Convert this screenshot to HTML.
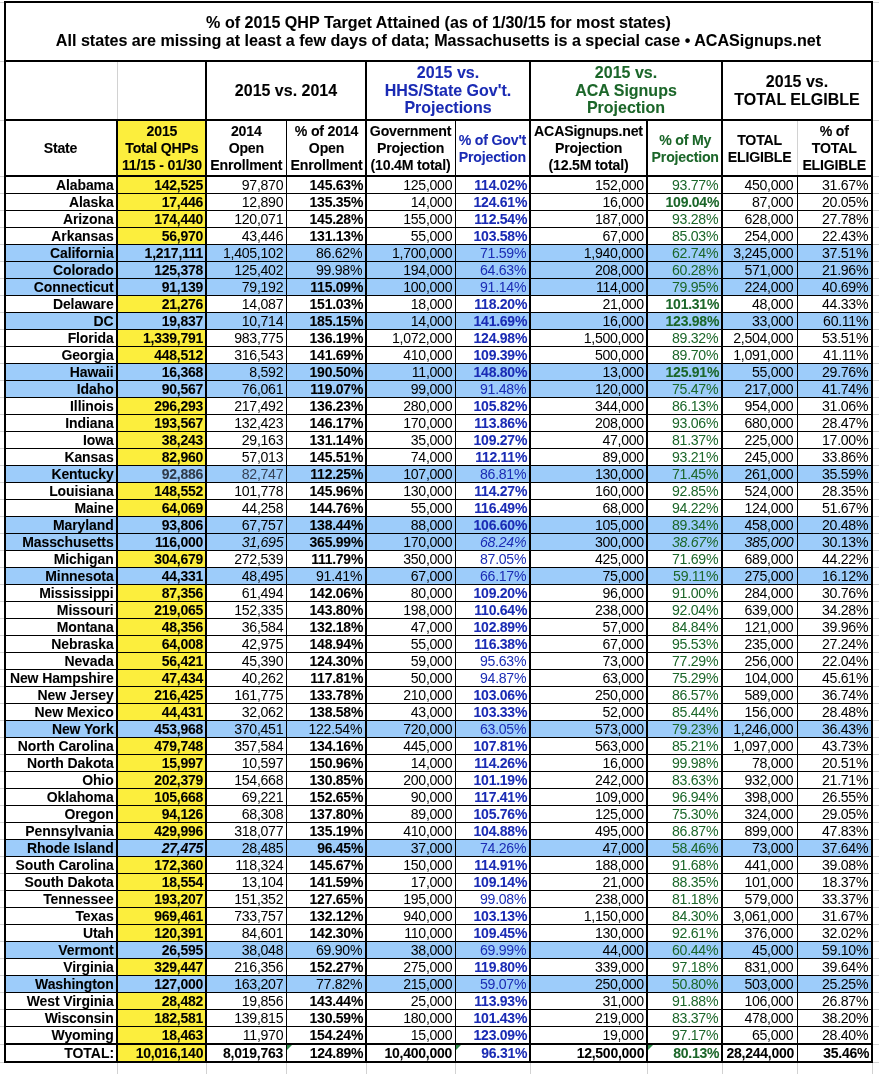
<!DOCTYPE html><html><head><meta charset="utf-8"><title>QHP</title><style>
html,body{margin:0;padding:0;background:#fff}
#p{will-change:transform;position:relative;width:879px;height:1074px;overflow:hidden;font-family:"Liberation Sans",sans-serif;color:#000}
#p div{position:absolute;box-sizing:border-box}
.k{background:#000}.g{background:#d2d2d2}
.bl{background:#9dccfa}.ye{background:#fcee3d}
.c{font-size:14.15px;line-height:1;height:14.15px;white-space:nowrap;letter-spacing:-0.3px;transform:scaleY(1.048);transform-origin:50% 11.978px;text-align:right;padding-right:2.8px}
.h{font-size:14.15px;line-height:1;height:14.15px;white-space:nowrap;letter-spacing:-0.2px;transform:scaleY(1.035);transform-origin:50% 11.978px;text-align:center;font-weight:bold;-webkit-text-stroke:0.08px currentColor}
.gh{font-size:16.0px;line-height:1;height:16.0px;white-space:nowrap;letter-spacing:0px;transform:scaleY(1.035);transform-origin:50% 13.544px;text-align:center;font-weight:bold;-webkit-text-stroke:0.08px currentColor}
.t{font-size:16.1px;line-height:1;height:16.1px;white-space:nowrap;letter-spacing:0px;transform:scaleY(1.03);transform-origin:50% 13.629px;text-align:center;font-weight:bold;-webkit-text-stroke:0.08px currentColor}
.c.b{font-size:14.0px;height:14.0px;transform:scaleY(0.99);transform-origin:50% 11.851px;letter-spacing:-0.25px;padding-right:1.9px;-webkit-text-stroke:0.06px currentColor}
.b{font-weight:bold}.i{font-style:italic}.tb{color:#1a2bb4}.tg{color:#1b6629}.gy{color:#2f3a4a}.gz{color:#364256}.c.s{letter-spacing:-0.1px}.c.p6{padding-right:2.1px}.c.p8{padding-right:3.6px}.c.s{padding-right:2.4px}.c.t0{padding-right:1.8px;letter-spacing:0}.c.t1{padding-right:1.8px;letter-spacing:-0.25px}.c.t2{padding-right:3px}
</style></head><body><div id="p">
<div class="g" style="left:0px;top:2px;width:4px;height:1px;"></div>
<div class="g" style="left:873px;top:2px;width:6px;height:1px;"></div>
<div class="g" style="left:0px;top:61px;width:4px;height:1px;"></div>
<div class="g" style="left:873px;top:61px;width:6px;height:1px;"></div>
<div class="g" style="left:0px;top:120px;width:4px;height:1px;"></div>
<div class="g" style="left:873px;top:120px;width:6px;height:1px;"></div>
<div class="g" style="left:0px;top:176px;width:4px;height:1px;"></div>
<div class="g" style="left:873px;top:176px;width:6px;height:1px;"></div>
<div class="g" style="left:0px;top:193px;width:4px;height:1px;"></div>
<div class="g" style="left:873px;top:193px;width:6px;height:1px;"></div>
<div class="g" style="left:0px;top:210px;width:4px;height:1px;"></div>
<div class="g" style="left:873px;top:210px;width:6px;height:1px;"></div>
<div class="g" style="left:0px;top:227px;width:4px;height:1px;"></div>
<div class="g" style="left:873px;top:227px;width:6px;height:1px;"></div>
<div class="g" style="left:0px;top:244px;width:4px;height:1px;"></div>
<div class="g" style="left:873px;top:244px;width:6px;height:1px;"></div>
<div class="g" style="left:0px;top:261px;width:4px;height:1px;"></div>
<div class="g" style="left:873px;top:261px;width:6px;height:1px;"></div>
<div class="g" style="left:0px;top:278px;width:4px;height:1px;"></div>
<div class="g" style="left:873px;top:278px;width:6px;height:1px;"></div>
<div class="g" style="left:0px;top:295px;width:4px;height:1px;"></div>
<div class="g" style="left:873px;top:295px;width:6px;height:1px;"></div>
<div class="g" style="left:0px;top:312px;width:4px;height:1px;"></div>
<div class="g" style="left:873px;top:312px;width:6px;height:1px;"></div>
<div class="g" style="left:0px;top:329px;width:4px;height:1px;"></div>
<div class="g" style="left:873px;top:329px;width:6px;height:1px;"></div>
<div class="g" style="left:0px;top:346px;width:4px;height:1px;"></div>
<div class="g" style="left:873px;top:346px;width:6px;height:1px;"></div>
<div class="g" style="left:0px;top:363px;width:4px;height:1px;"></div>
<div class="g" style="left:873px;top:363px;width:6px;height:1px;"></div>
<div class="g" style="left:0px;top:380px;width:4px;height:1px;"></div>
<div class="g" style="left:873px;top:380px;width:6px;height:1px;"></div>
<div class="g" style="left:0px;top:397px;width:4px;height:1px;"></div>
<div class="g" style="left:873px;top:397px;width:6px;height:1px;"></div>
<div class="g" style="left:0px;top:414px;width:4px;height:1px;"></div>
<div class="g" style="left:873px;top:414px;width:6px;height:1px;"></div>
<div class="g" style="left:0px;top:431px;width:4px;height:1px;"></div>
<div class="g" style="left:873px;top:431px;width:6px;height:1px;"></div>
<div class="g" style="left:0px;top:448px;width:4px;height:1px;"></div>
<div class="g" style="left:873px;top:448px;width:6px;height:1px;"></div>
<div class="g" style="left:0px;top:465px;width:4px;height:1px;"></div>
<div class="g" style="left:873px;top:465px;width:6px;height:1px;"></div>
<div class="g" style="left:0px;top:482px;width:4px;height:1px;"></div>
<div class="g" style="left:873px;top:482px;width:6px;height:1px;"></div>
<div class="g" style="left:0px;top:499px;width:4px;height:1px;"></div>
<div class="g" style="left:873px;top:499px;width:6px;height:1px;"></div>
<div class="g" style="left:0px;top:516px;width:4px;height:1px;"></div>
<div class="g" style="left:873px;top:516px;width:6px;height:1px;"></div>
<div class="g" style="left:0px;top:533px;width:4px;height:1px;"></div>
<div class="g" style="left:873px;top:533px;width:6px;height:1px;"></div>
<div class="g" style="left:0px;top:550px;width:4px;height:1px;"></div>
<div class="g" style="left:873px;top:550px;width:6px;height:1px;"></div>
<div class="g" style="left:0px;top:567px;width:4px;height:1px;"></div>
<div class="g" style="left:873px;top:567px;width:6px;height:1px;"></div>
<div class="g" style="left:0px;top:584px;width:4px;height:1px;"></div>
<div class="g" style="left:873px;top:584px;width:6px;height:1px;"></div>
<div class="g" style="left:0px;top:601px;width:4px;height:1px;"></div>
<div class="g" style="left:873px;top:601px;width:6px;height:1px;"></div>
<div class="g" style="left:0px;top:618px;width:4px;height:1px;"></div>
<div class="g" style="left:873px;top:618px;width:6px;height:1px;"></div>
<div class="g" style="left:0px;top:635px;width:4px;height:1px;"></div>
<div class="g" style="left:873px;top:635px;width:6px;height:1px;"></div>
<div class="g" style="left:0px;top:652px;width:4px;height:1px;"></div>
<div class="g" style="left:873px;top:652px;width:6px;height:1px;"></div>
<div class="g" style="left:0px;top:669px;width:4px;height:1px;"></div>
<div class="g" style="left:873px;top:669px;width:6px;height:1px;"></div>
<div class="g" style="left:0px;top:686px;width:4px;height:1px;"></div>
<div class="g" style="left:873px;top:686px;width:6px;height:1px;"></div>
<div class="g" style="left:0px;top:703px;width:4px;height:1px;"></div>
<div class="g" style="left:873px;top:703px;width:6px;height:1px;"></div>
<div class="g" style="left:0px;top:720px;width:4px;height:1px;"></div>
<div class="g" style="left:873px;top:720px;width:6px;height:1px;"></div>
<div class="g" style="left:0px;top:737px;width:4px;height:1px;"></div>
<div class="g" style="left:873px;top:737px;width:6px;height:1px;"></div>
<div class="g" style="left:0px;top:754px;width:4px;height:1px;"></div>
<div class="g" style="left:873px;top:754px;width:6px;height:1px;"></div>
<div class="g" style="left:0px;top:771px;width:4px;height:1px;"></div>
<div class="g" style="left:873px;top:771px;width:6px;height:1px;"></div>
<div class="g" style="left:0px;top:788px;width:4px;height:1px;"></div>
<div class="g" style="left:873px;top:788px;width:6px;height:1px;"></div>
<div class="g" style="left:0px;top:805px;width:4px;height:1px;"></div>
<div class="g" style="left:873px;top:805px;width:6px;height:1px;"></div>
<div class="g" style="left:0px;top:822px;width:4px;height:1px;"></div>
<div class="g" style="left:873px;top:822px;width:6px;height:1px;"></div>
<div class="g" style="left:0px;top:839px;width:4px;height:1px;"></div>
<div class="g" style="left:873px;top:839px;width:6px;height:1px;"></div>
<div class="g" style="left:0px;top:856px;width:4px;height:1px;"></div>
<div class="g" style="left:873px;top:856px;width:6px;height:1px;"></div>
<div class="g" style="left:0px;top:873px;width:4px;height:1px;"></div>
<div class="g" style="left:873px;top:873px;width:6px;height:1px;"></div>
<div class="g" style="left:0px;top:890px;width:4px;height:1px;"></div>
<div class="g" style="left:873px;top:890px;width:6px;height:1px;"></div>
<div class="g" style="left:0px;top:907px;width:4px;height:1px;"></div>
<div class="g" style="left:873px;top:907px;width:6px;height:1px;"></div>
<div class="g" style="left:0px;top:924px;width:4px;height:1px;"></div>
<div class="g" style="left:873px;top:924px;width:6px;height:1px;"></div>
<div class="g" style="left:0px;top:941px;width:4px;height:1px;"></div>
<div class="g" style="left:873px;top:941px;width:6px;height:1px;"></div>
<div class="g" style="left:0px;top:958px;width:4px;height:1px;"></div>
<div class="g" style="left:873px;top:958px;width:6px;height:1px;"></div>
<div class="g" style="left:0px;top:975px;width:4px;height:1px;"></div>
<div class="g" style="left:873px;top:975px;width:6px;height:1px;"></div>
<div class="g" style="left:0px;top:992px;width:4px;height:1px;"></div>
<div class="g" style="left:873px;top:992px;width:6px;height:1px;"></div>
<div class="g" style="left:0px;top:1009px;width:4px;height:1px;"></div>
<div class="g" style="left:873px;top:1009px;width:6px;height:1px;"></div>
<div class="g" style="left:0px;top:1026px;width:4px;height:1px;"></div>
<div class="g" style="left:873px;top:1026px;width:6px;height:1px;"></div>
<div class="g" style="left:0px;top:1044px;width:4px;height:1px;"></div>
<div class="g" style="left:873px;top:1044px;width:6px;height:1px;"></div>
<div class="g" style="left:0px;top:1062px;width:4px;height:1px;"></div>
<div class="g" style="left:873px;top:1062px;width:6px;height:1px;"></div>
<div class="g" style="left:117px;top:1063px;width:1px;height:11px;"></div>
<div class="g" style="left:206px;top:1063px;width:1px;height:11px;"></div>
<div class="g" style="left:286px;top:1063px;width:1px;height:11px;"></div>
<div class="g" style="left:366px;top:1063px;width:1px;height:11px;"></div>
<div class="g" style="left:455px;top:1063px;width:1px;height:11px;"></div>
<div class="g" style="left:530px;top:1063px;width:1px;height:11px;"></div>
<div class="g" style="left:647px;top:1063px;width:1px;height:11px;"></div>
<div class="g" style="left:722px;top:1063px;width:1px;height:11px;"></div>
<div class="g" style="left:797px;top:1063px;width:1px;height:11px;"></div>
<div class="g" style="left:872px;top:1063px;width:1px;height:11px;"></div>
<div class="g" style="left:117px;top:62px;width:1px;height:57px;"></div>
<div class="ye" style="left:118px;top:177px;width:87px;height:16px;"></div>
<div class="ye" style="left:118px;top:194px;width:87px;height:16px;"></div>
<div class="ye" style="left:118px;top:211px;width:87px;height:16px;"></div>
<div class="ye" style="left:118px;top:228px;width:87px;height:16px;"></div>
<div class="bl" style="left:6px;top:245px;width:865px;height:16px;"></div>
<div class="bl" style="left:6px;top:262px;width:865px;height:16px;"></div>
<div class="bl" style="left:6px;top:279px;width:865px;height:16px;"></div>
<div class="ye" style="left:118px;top:296px;width:87px;height:16px;"></div>
<div class="bl" style="left:6px;top:313px;width:865px;height:16px;"></div>
<div class="ye" style="left:118px;top:330px;width:87px;height:16px;"></div>
<div class="ye" style="left:118px;top:347px;width:87px;height:16px;"></div>
<div class="bl" style="left:6px;top:364px;width:865px;height:16px;"></div>
<div class="bl" style="left:6px;top:381px;width:865px;height:16px;"></div>
<div class="ye" style="left:118px;top:398px;width:87px;height:16px;"></div>
<div class="ye" style="left:118px;top:415px;width:87px;height:16px;"></div>
<div class="ye" style="left:118px;top:432px;width:87px;height:16px;"></div>
<div class="ye" style="left:118px;top:449px;width:87px;height:16px;"></div>
<div class="bl" style="left:6px;top:466px;width:865px;height:16px;"></div>
<div class="ye" style="left:118px;top:483px;width:87px;height:16px;"></div>
<div class="ye" style="left:118px;top:500px;width:87px;height:16px;"></div>
<div class="bl" style="left:6px;top:517px;width:865px;height:16px;"></div>
<div class="bl" style="left:6px;top:534px;width:865px;height:16px;"></div>
<div class="ye" style="left:118px;top:551px;width:87px;height:16px;"></div>
<div class="bl" style="left:6px;top:568px;width:865px;height:16px;"></div>
<div class="ye" style="left:118px;top:585px;width:87px;height:16px;"></div>
<div class="ye" style="left:118px;top:602px;width:87px;height:16px;"></div>
<div class="ye" style="left:118px;top:619px;width:87px;height:16px;"></div>
<div class="ye" style="left:118px;top:636px;width:87px;height:16px;"></div>
<div class="ye" style="left:118px;top:653px;width:87px;height:16px;"></div>
<div class="ye" style="left:118px;top:670px;width:87px;height:16px;"></div>
<div class="ye" style="left:118px;top:687px;width:87px;height:16px;"></div>
<div class="ye" style="left:118px;top:704px;width:87px;height:16px;"></div>
<div class="bl" style="left:6px;top:721px;width:865px;height:16px;"></div>
<div class="ye" style="left:118px;top:738px;width:87px;height:16px;"></div>
<div class="ye" style="left:118px;top:755px;width:87px;height:16px;"></div>
<div class="ye" style="left:118px;top:772px;width:87px;height:16px;"></div>
<div class="ye" style="left:118px;top:789px;width:87px;height:16px;"></div>
<div class="ye" style="left:118px;top:806px;width:87px;height:16px;"></div>
<div class="ye" style="left:118px;top:823px;width:87px;height:16px;"></div>
<div class="bl" style="left:6px;top:840px;width:865px;height:16px;"></div>
<div class="ye" style="left:118px;top:857px;width:87px;height:16px;"></div>
<div class="ye" style="left:118px;top:874px;width:87px;height:16px;"></div>
<div class="ye" style="left:118px;top:891px;width:87px;height:16px;"></div>
<div class="ye" style="left:118px;top:908px;width:87px;height:16px;"></div>
<div class="ye" style="left:118px;top:925px;width:87px;height:16px;"></div>
<div class="bl" style="left:6px;top:942px;width:865px;height:16px;"></div>
<div class="ye" style="left:118px;top:959px;width:87px;height:16px;"></div>
<div class="bl" style="left:6px;top:976px;width:865px;height:16px;"></div>
<div class="ye" style="left:118px;top:993px;width:87px;height:16px;"></div>
<div class="ye" style="left:118px;top:1010px;width:87px;height:16px;"></div>
<div class="ye" style="left:118px;top:1027px;width:87px;height:16px;"></div>
<div class="ye" style="left:118px;top:121px;width:87px;height:54px;"></div>
<div class="ye" style="left:118px;top:1045px;width:87px;height:16px;"></div>
<div class="k" style="left:4px;top:1px;width:869px;height:2px;"></div>
<div class="k" style="left:4px;top:60px;width:869px;height:2px;"></div>
<div class="k" style="left:4px;top:119px;width:869px;height:2px;"></div>
<div class="k" style="left:4px;top:175px;width:869px;height:2px;"></div>
<div class="k" style="left:4px;top:193px;width:869px;height:1px;"></div>
<div class="k" style="left:4px;top:210px;width:869px;height:1px;"></div>
<div class="k" style="left:4px;top:227px;width:869px;height:1px;"></div>
<div class="k" style="left:4px;top:244px;width:869px;height:1px;"></div>
<div class="k" style="left:4px;top:261px;width:869px;height:1px;"></div>
<div class="k" style="left:4px;top:278px;width:869px;height:1px;"></div>
<div class="k" style="left:4px;top:295px;width:869px;height:1px;"></div>
<div class="k" style="left:4px;top:312px;width:869px;height:1px;"></div>
<div class="k" style="left:4px;top:329px;width:869px;height:1px;"></div>
<div class="k" style="left:4px;top:346px;width:869px;height:1px;"></div>
<div class="k" style="left:4px;top:363px;width:869px;height:1px;"></div>
<div class="k" style="left:4px;top:380px;width:869px;height:1px;"></div>
<div class="k" style="left:4px;top:397px;width:869px;height:1px;"></div>
<div class="k" style="left:4px;top:414px;width:869px;height:1px;"></div>
<div class="k" style="left:4px;top:431px;width:869px;height:1px;"></div>
<div class="k" style="left:4px;top:448px;width:869px;height:1px;"></div>
<div class="k" style="left:4px;top:465px;width:869px;height:1px;"></div>
<div class="k" style="left:4px;top:482px;width:869px;height:1px;"></div>
<div class="k" style="left:4px;top:499px;width:869px;height:1px;"></div>
<div class="k" style="left:4px;top:516px;width:869px;height:1px;"></div>
<div class="k" style="left:4px;top:533px;width:869px;height:1px;"></div>
<div class="k" style="left:4px;top:550px;width:869px;height:1px;"></div>
<div class="k" style="left:4px;top:567px;width:869px;height:1px;"></div>
<div class="k" style="left:4px;top:584px;width:869px;height:1px;"></div>
<div class="k" style="left:4px;top:601px;width:869px;height:1px;"></div>
<div class="k" style="left:4px;top:618px;width:869px;height:1px;"></div>
<div class="k" style="left:4px;top:635px;width:869px;height:1px;"></div>
<div class="k" style="left:4px;top:652px;width:869px;height:1px;"></div>
<div class="k" style="left:4px;top:669px;width:869px;height:1px;"></div>
<div class="k" style="left:4px;top:686px;width:869px;height:1px;"></div>
<div class="k" style="left:4px;top:703px;width:869px;height:1px;"></div>
<div class="k" style="left:4px;top:720px;width:869px;height:1px;"></div>
<div class="k" style="left:4px;top:737px;width:869px;height:1px;"></div>
<div class="k" style="left:4px;top:754px;width:869px;height:1px;"></div>
<div class="k" style="left:4px;top:771px;width:869px;height:1px;"></div>
<div class="k" style="left:4px;top:788px;width:869px;height:1px;"></div>
<div class="k" style="left:4px;top:805px;width:869px;height:1px;"></div>
<div class="k" style="left:4px;top:822px;width:869px;height:1px;"></div>
<div class="k" style="left:4px;top:839px;width:869px;height:1px;"></div>
<div class="k" style="left:4px;top:856px;width:869px;height:1px;"></div>
<div class="k" style="left:4px;top:873px;width:869px;height:1px;"></div>
<div class="k" style="left:4px;top:890px;width:869px;height:1px;"></div>
<div class="k" style="left:4px;top:907px;width:869px;height:1px;"></div>
<div class="k" style="left:4px;top:924px;width:869px;height:1px;"></div>
<div class="k" style="left:4px;top:941px;width:869px;height:1px;"></div>
<div class="k" style="left:4px;top:958px;width:869px;height:1px;"></div>
<div class="k" style="left:4px;top:975px;width:869px;height:1px;"></div>
<div class="k" style="left:4px;top:992px;width:869px;height:1px;"></div>
<div class="k" style="left:4px;top:1009px;width:869px;height:1px;"></div>
<div class="k" style="left:4px;top:1026px;width:869px;height:1px;"></div>
<div class="k" style="left:4px;top:1043px;width:869px;height:2px;"></div>
<div class="k" style="left:4px;top:1061px;width:869px;height:2px;"></div>
<div class="k" style="left:4px;top:1px;width:2px;height:1062px;"></div>
<div class="k" style="left:116px;top:119px;width:2px;height:943px;"></div>
<div class="k" style="left:205px;top:60px;width:2px;height:1002px;"></div>
<div class="k" style="left:286px;top:119px;width:1px;height:943px;"></div>
<div class="k" style="left:365px;top:60px;width:2px;height:1002px;"></div>
<div class="k" style="left:455px;top:119px;width:1px;height:943px;"></div>
<div class="k" style="left:529px;top:60px;width:2px;height:1002px;"></div>
<div class="k" style="left:646px;top:119px;width:2px;height:943px;"></div>
<div class="k" style="left:721px;top:60px;width:2px;height:1002px;"></div>
<div class="g" style="left:797px;top:121px;width:1px;height:54px;"></div>
<div class="k" style="left:797px;top:177px;width:1px;height:885px;"></div>
<div class="k" style="left:871px;top:1px;width:2px;height:1062px;"></div>
<div class="t" style="left:6px;top:14.07px;width:865px">% of 2015 QHP Target Attained (as of 1/30/15 for most states)</div>
<div class="t" style="left:6px;top:32.37px;width:865px">All states are missing at least a few days of data; Massachusetts is a special case • ACASignups.net</div>
<div class="gh" style="left:207px;top:82.66px;width:158px">2015 vs. 2014</div>
<div class="gh tb" style="left:367px;top:64.86px;width:162px">2015 vs.</div>
<div class="gh tb" style="left:367px;top:82.66px;width:162px">HHS/State Gov't.</div>
<div class="gh tb" style="left:367px;top:100.46px;width:162px">Projections</div>
<div class="gh tg" style="left:531px;top:64.86px;width:190px">2015 vs.</div>
<div class="gh tg" style="left:531px;top:82.66px;width:190px">ACA Signups</div>
<div class="gh tg" style="left:531px;top:100.46px;width:190px">Projection</div>
<div class="gh" style="left:723px;top:73.76px;width:148px">2015 vs.</div>
<div class="gh" style="left:723px;top:91.56px;width:148px">TOTAL ELGIBLE</div>
<div class="h" style="left:5.5px;top:141.22px;width:110px">State</div>
<div class="h" style="left:118.4px;top:124.27px;width:87px">2015</div>
<div class="h" style="left:118.4px;top:141.22px;width:87px">Total QHPs</div>
<div class="h" style="left:118.4px;top:158.17px;width:87px">11/15 - 01/30</div>
<div class="h" style="left:206.8px;top:124.27px;width:79px">2014</div>
<div class="h" style="left:206.8px;top:141.22px;width:79px">Open</div>
<div class="h" style="left:206.8px;top:158.17px;width:79px">Enrollment</div>
<div class="h" style="left:287.5px;top:124.27px;width:78px">% of 2014</div>
<div class="h" style="left:287.5px;top:141.22px;width:78px">Open</div>
<div class="h" style="left:287.5px;top:158.17px;width:78px">Enrollment</div>
<div class="h" style="left:366.5px;top:124.27px;width:88px">Government</div>
<div class="h" style="left:366.5px;top:141.22px;width:88px">Projection</div>
<div class="h" style="left:366.5px;top:158.17px;width:88px">(10.4M total)</div>
<div class="h tb" style="left:455.9px;top:132.75px;width:73px">% of Gov't</div>
<div class="h tb" style="left:455.9px;top:149.7px;width:73px">Projection</div>
<div class="h" style="left:531px;top:124.27px;width:115px">ACASignups.net</div>
<div class="h" style="left:531px;top:141.22px;width:115px">Projection</div>
<div class="h" style="left:531px;top:158.17px;width:115px">(12.5M total)</div>
<div class="h tg" style="left:648.7px;top:132.75px;width:73px">% of My</div>
<div class="h tg" style="left:648.7px;top:149.7px;width:73px">Projection</div>
<div class="h" style="left:722.6px;top:132.75px;width:74px">TOTAL</div>
<div class="h" style="left:722.6px;top:149.7px;width:74px">ELIGIBLE</div>
<div class="h" style="left:797.7px;top:124.27px;width:73px">% of</div>
<div class="h" style="left:797.7px;top:141.22px;width:73px">TOTAL</div>
<div class="h" style="left:797.7px;top:158.17px;width:73px">ELIGIBLE</div>
<div class="c b s" style="left:6px;top:178.2px;width:110px">Alabama</div>
<div class="c b" style="left:118px;top:178.2px;width:87px">142,525</div>
<div class="c" style="left:207px;top:178.37px;width:79px">97,870</div>
<div class="c b" style="left:287px;top:178.2px;width:78px">145.63%</div>
<div class="c" style="left:367px;top:178.37px;width:88px">125,000</div>
<div class="c b tb" style="left:456px;top:178.2px;width:73px">114.02%</div>
<div class="c p6" style="left:531px;top:178.37px;width:115px">152,000</div>
<div class="c tg" style="left:648px;top:178.37px;width:73px">93.77%</div>
<div class="c p8" style="left:723px;top:178.37px;width:74px">450,000</div>
<div class="c" style="left:798px;top:178.37px;width:73px">31.67%</div>
<div class="c b s" style="left:6px;top:195.2px;width:110px">Alaska</div>
<div class="c b" style="left:118px;top:195.2px;width:87px">17,446</div>
<div class="c" style="left:207px;top:195.37px;width:79px">12,890</div>
<div class="c b" style="left:287px;top:195.2px;width:78px">135.35%</div>
<div class="c" style="left:367px;top:195.37px;width:88px">14,000</div>
<div class="c b tb" style="left:456px;top:195.2px;width:73px">124.61%</div>
<div class="c p6" style="left:531px;top:195.37px;width:115px">16,000</div>
<div class="c b tg" style="left:648px;top:195.2px;width:73px">109.04%</div>
<div class="c p8" style="left:723px;top:195.37px;width:74px">87,000</div>
<div class="c" style="left:798px;top:195.37px;width:73px">20.05%</div>
<div class="c b s" style="left:6px;top:212.2px;width:110px">Arizona</div>
<div class="c b" style="left:118px;top:212.2px;width:87px">174,440</div>
<div class="c" style="left:207px;top:212.37px;width:79px">120,071</div>
<div class="c b" style="left:287px;top:212.2px;width:78px">145.28%</div>
<div class="c" style="left:367px;top:212.37px;width:88px">155,000</div>
<div class="c b tb" style="left:456px;top:212.2px;width:73px">112.54%</div>
<div class="c p6" style="left:531px;top:212.37px;width:115px">187,000</div>
<div class="c tg" style="left:648px;top:212.37px;width:73px">93.28%</div>
<div class="c p8" style="left:723px;top:212.37px;width:74px">628,000</div>
<div class="c" style="left:798px;top:212.37px;width:73px">27.78%</div>
<div class="c b s" style="left:6px;top:229.2px;width:110px">Arkansas</div>
<div class="c b" style="left:118px;top:229.2px;width:87px">56,970</div>
<div class="c" style="left:207px;top:229.37px;width:79px">43,446</div>
<div class="c b" style="left:287px;top:229.2px;width:78px">131.13%</div>
<div class="c" style="left:367px;top:229.37px;width:88px">55,000</div>
<div class="c b tb" style="left:456px;top:229.2px;width:73px">103.58%</div>
<div class="c p6" style="left:531px;top:229.37px;width:115px">67,000</div>
<div class="c tg" style="left:648px;top:229.37px;width:73px">85.03%</div>
<div class="c p8" style="left:723px;top:229.37px;width:74px">254,000</div>
<div class="c" style="left:798px;top:229.37px;width:73px">22.43%</div>
<div class="c b s" style="left:6px;top:246.2px;width:110px">California</div>
<div class="c b" style="left:118px;top:246.2px;width:87px">1,217,111</div>
<div class="c" style="left:207px;top:246.37px;width:79px">1,405,102</div>
<div class="c" style="left:287px;top:246.37px;width:78px">86.62%</div>
<div class="c" style="left:367px;top:246.37px;width:88px">1,700,000</div>
<div class="c tb" style="left:456px;top:246.37px;width:73px">71.59%</div>
<div class="c p6" style="left:531px;top:246.37px;width:115px">1,940,000</div>
<div class="c tg" style="left:648px;top:246.37px;width:73px">62.74%</div>
<div class="c p8" style="left:723px;top:246.37px;width:74px">3,245,000</div>
<div class="c" style="left:798px;top:246.37px;width:73px">37.51%</div>
<div class="c b s" style="left:6px;top:263.2px;width:110px">Colorado</div>
<div class="c b" style="left:118px;top:263.2px;width:87px">125,378</div>
<div class="c" style="left:207px;top:263.37px;width:79px">125,402</div>
<div class="c" style="left:287px;top:263.37px;width:78px">99.98%</div>
<div class="c" style="left:367px;top:263.37px;width:88px">194,000</div>
<div class="c tb" style="left:456px;top:263.37px;width:73px">64.63%</div>
<div class="c p6" style="left:531px;top:263.37px;width:115px">208,000</div>
<div class="c tg" style="left:648px;top:263.37px;width:73px">60.28%</div>
<div class="c p8" style="left:723px;top:263.37px;width:74px">571,000</div>
<div class="c" style="left:798px;top:263.37px;width:73px">21.96%</div>
<div class="c b s" style="left:6px;top:280.2px;width:110px">Connecticut</div>
<div class="c b" style="left:118px;top:280.2px;width:87px">91,139</div>
<div class="c" style="left:207px;top:280.37px;width:79px">79,192</div>
<div class="c b" style="left:287px;top:280.2px;width:78px">115.09%</div>
<div class="c" style="left:367px;top:280.37px;width:88px">100,000</div>
<div class="c tb" style="left:456px;top:280.37px;width:73px">91.14%</div>
<div class="c p6" style="left:531px;top:280.37px;width:115px">114,000</div>
<div class="c tg" style="left:648px;top:280.37px;width:73px">79.95%</div>
<div class="c p8" style="left:723px;top:280.37px;width:74px">224,000</div>
<div class="c" style="left:798px;top:280.37px;width:73px">40.69%</div>
<div class="c b s" style="left:6px;top:297.2px;width:110px">Delaware</div>
<div class="c b" style="left:118px;top:297.2px;width:87px">21,276</div>
<div class="c" style="left:207px;top:297.37px;width:79px">14,087</div>
<div class="c b" style="left:287px;top:297.2px;width:78px">151.03%</div>
<div class="c" style="left:367px;top:297.37px;width:88px">18,000</div>
<div class="c b tb" style="left:456px;top:297.2px;width:73px">118.20%</div>
<div class="c p6" style="left:531px;top:297.37px;width:115px">21,000</div>
<div class="c b tg" style="left:648px;top:297.2px;width:73px">101.31%</div>
<div class="c p8" style="left:723px;top:297.37px;width:74px">48,000</div>
<div class="c" style="left:798px;top:297.37px;width:73px">44.33%</div>
<div class="c b s" style="left:6px;top:314.2px;width:110px">DC</div>
<div class="c b" style="left:118px;top:314.2px;width:87px">19,837</div>
<div class="c" style="left:207px;top:314.37px;width:79px">10,714</div>
<div class="c b" style="left:287px;top:314.2px;width:78px">185.15%</div>
<div class="c" style="left:367px;top:314.37px;width:88px">14,000</div>
<div class="c b tb" style="left:456px;top:314.2px;width:73px">141.69%</div>
<div class="c p6" style="left:531px;top:314.37px;width:115px">16,000</div>
<div class="c b tg" style="left:648px;top:314.2px;width:73px">123.98%</div>
<div class="c p8" style="left:723px;top:314.37px;width:74px">33,000</div>
<div class="c" style="left:798px;top:314.37px;width:73px">60.11%</div>
<div class="c b s" style="left:6px;top:331.2px;width:110px">Florida</div>
<div class="c b" style="left:118px;top:331.2px;width:87px">1,339,791</div>
<div class="c" style="left:207px;top:331.37px;width:79px">983,775</div>
<div class="c b" style="left:287px;top:331.2px;width:78px">136.19%</div>
<div class="c" style="left:367px;top:331.37px;width:88px">1,072,000</div>
<div class="c b tb" style="left:456px;top:331.2px;width:73px">124.98%</div>
<div class="c p6" style="left:531px;top:331.37px;width:115px">1,500,000</div>
<div class="c tg" style="left:648px;top:331.37px;width:73px">89.32%</div>
<div class="c p8" style="left:723px;top:331.37px;width:74px">2,504,000</div>
<div class="c" style="left:798px;top:331.37px;width:73px">53.51%</div>
<div class="c b s" style="left:6px;top:348.2px;width:110px">Georgia</div>
<div class="c b" style="left:118px;top:348.2px;width:87px">448,512</div>
<div class="c" style="left:207px;top:348.37px;width:79px">316,543</div>
<div class="c b" style="left:287px;top:348.2px;width:78px">141.69%</div>
<div class="c" style="left:367px;top:348.37px;width:88px">410,000</div>
<div class="c b tb" style="left:456px;top:348.2px;width:73px">109.39%</div>
<div class="c p6" style="left:531px;top:348.37px;width:115px">500,000</div>
<div class="c tg" style="left:648px;top:348.37px;width:73px">89.70%</div>
<div class="c p8" style="left:723px;top:348.37px;width:74px">1,091,000</div>
<div class="c" style="left:798px;top:348.37px;width:73px">41.11%</div>
<div class="c b s" style="left:6px;top:365.2px;width:110px">Hawaii</div>
<div class="c b" style="left:118px;top:365.2px;width:87px">16,368</div>
<div class="c" style="left:207px;top:365.37px;width:79px">8,592</div>
<div class="c b" style="left:287px;top:365.2px;width:78px">190.50%</div>
<div class="c" style="left:367px;top:365.37px;width:88px">11,000</div>
<div class="c b tb" style="left:456px;top:365.2px;width:73px">148.80%</div>
<div class="c p6" style="left:531px;top:365.37px;width:115px">13,000</div>
<div class="c b tg" style="left:648px;top:365.2px;width:73px">125.91%</div>
<div class="c p8" style="left:723px;top:365.37px;width:74px">55,000</div>
<div class="c" style="left:798px;top:365.37px;width:73px">29.76%</div>
<div class="c b s" style="left:6px;top:382.2px;width:110px">Idaho</div>
<div class="c b" style="left:118px;top:382.2px;width:87px">90,567</div>
<div class="c" style="left:207px;top:382.37px;width:79px">76,061</div>
<div class="c b" style="left:287px;top:382.2px;width:78px">119.07%</div>
<div class="c" style="left:367px;top:382.37px;width:88px">99,000</div>
<div class="c tb" style="left:456px;top:382.37px;width:73px">91.48%</div>
<div class="c p6" style="left:531px;top:382.37px;width:115px">120,000</div>
<div class="c tg" style="left:648px;top:382.37px;width:73px">75.47%</div>
<div class="c p8" style="left:723px;top:382.37px;width:74px">217,000</div>
<div class="c" style="left:798px;top:382.37px;width:73px">41.74%</div>
<div class="c b s" style="left:6px;top:399.2px;width:110px">Illinois</div>
<div class="c b" style="left:118px;top:399.2px;width:87px">296,293</div>
<div class="c" style="left:207px;top:399.37px;width:79px">217,492</div>
<div class="c b" style="left:287px;top:399.2px;width:78px">136.23%</div>
<div class="c" style="left:367px;top:399.37px;width:88px">280,000</div>
<div class="c b tb" style="left:456px;top:399.2px;width:73px">105.82%</div>
<div class="c p6" style="left:531px;top:399.37px;width:115px">344,000</div>
<div class="c tg" style="left:648px;top:399.37px;width:73px">86.13%</div>
<div class="c p8" style="left:723px;top:399.37px;width:74px">954,000</div>
<div class="c" style="left:798px;top:399.37px;width:73px">31.06%</div>
<div class="c b s" style="left:6px;top:416.2px;width:110px">Indiana</div>
<div class="c b" style="left:118px;top:416.2px;width:87px">193,567</div>
<div class="c" style="left:207px;top:416.37px;width:79px">132,423</div>
<div class="c b" style="left:287px;top:416.2px;width:78px">146.17%</div>
<div class="c" style="left:367px;top:416.37px;width:88px">170,000</div>
<div class="c b tb" style="left:456px;top:416.2px;width:73px">113.86%</div>
<div class="c p6" style="left:531px;top:416.37px;width:115px">208,000</div>
<div class="c tg" style="left:648px;top:416.37px;width:73px">93.06%</div>
<div class="c p8" style="left:723px;top:416.37px;width:74px">680,000</div>
<div class="c" style="left:798px;top:416.37px;width:73px">28.47%</div>
<div class="c b s" style="left:6px;top:433.2px;width:110px">Iowa</div>
<div class="c b" style="left:118px;top:433.2px;width:87px">38,243</div>
<div class="c" style="left:207px;top:433.37px;width:79px">29,163</div>
<div class="c b" style="left:287px;top:433.2px;width:78px">131.14%</div>
<div class="c" style="left:367px;top:433.37px;width:88px">35,000</div>
<div class="c b tb" style="left:456px;top:433.2px;width:73px">109.27%</div>
<div class="c p6" style="left:531px;top:433.37px;width:115px">47,000</div>
<div class="c tg" style="left:648px;top:433.37px;width:73px">81.37%</div>
<div class="c p8" style="left:723px;top:433.37px;width:74px">225,000</div>
<div class="c" style="left:798px;top:433.37px;width:73px">17.00%</div>
<div class="c b s" style="left:6px;top:450.2px;width:110px">Kansas</div>
<div class="c b" style="left:118px;top:450.2px;width:87px">82,960</div>
<div class="c" style="left:207px;top:450.37px;width:79px">57,013</div>
<div class="c b" style="left:287px;top:450.2px;width:78px">145.51%</div>
<div class="c" style="left:367px;top:450.37px;width:88px">74,000</div>
<div class="c b tb" style="left:456px;top:450.2px;width:73px">112.11%</div>
<div class="c p6" style="left:531px;top:450.37px;width:115px">89,000</div>
<div class="c tg" style="left:648px;top:450.37px;width:73px">93.21%</div>
<div class="c p8" style="left:723px;top:450.37px;width:74px">245,000</div>
<div class="c" style="left:798px;top:450.37px;width:73px">33.86%</div>
<div class="c b s" style="left:6px;top:467.2px;width:110px">Kentucky</div>
<div class="c b gy" style="left:118px;top:467.2px;width:87px">92,886</div>
<div class="c gz" style="left:207px;top:467.37px;width:79px">82,747</div>
<div class="c b" style="left:287px;top:467.2px;width:78px">112.25%</div>
<div class="c" style="left:367px;top:467.37px;width:88px">107,000</div>
<div class="c tb" style="left:456px;top:467.37px;width:73px">86.81%</div>
<div class="c p6" style="left:531px;top:467.37px;width:115px">130,000</div>
<div class="c tg" style="left:648px;top:467.37px;width:73px">71.45%</div>
<div class="c p8" style="left:723px;top:467.37px;width:74px">261,000</div>
<div class="c" style="left:798px;top:467.37px;width:73px">35.59%</div>
<div class="c b s" style="left:6px;top:484.2px;width:110px">Louisiana</div>
<div class="c b" style="left:118px;top:484.2px;width:87px">148,552</div>
<div class="c" style="left:207px;top:484.37px;width:79px">101,778</div>
<div class="c b" style="left:287px;top:484.2px;width:78px">145.96%</div>
<div class="c" style="left:367px;top:484.37px;width:88px">130,000</div>
<div class="c b tb" style="left:456px;top:484.2px;width:73px">114.27%</div>
<div class="c p6" style="left:531px;top:484.37px;width:115px">160,000</div>
<div class="c tg" style="left:648px;top:484.37px;width:73px">92.85%</div>
<div class="c p8" style="left:723px;top:484.37px;width:74px">524,000</div>
<div class="c" style="left:798px;top:484.37px;width:73px">28.35%</div>
<div class="c b s" style="left:6px;top:501.2px;width:110px">Maine</div>
<div class="c b" style="left:118px;top:501.2px;width:87px">64,069</div>
<div class="c" style="left:207px;top:501.37px;width:79px">44,258</div>
<div class="c b" style="left:287px;top:501.2px;width:78px">144.76%</div>
<div class="c" style="left:367px;top:501.37px;width:88px">55,000</div>
<div class="c b tb" style="left:456px;top:501.2px;width:73px">116.49%</div>
<div class="c p6" style="left:531px;top:501.37px;width:115px">68,000</div>
<div class="c tg" style="left:648px;top:501.37px;width:73px">94.22%</div>
<div class="c p8" style="left:723px;top:501.37px;width:74px">124,000</div>
<div class="c" style="left:798px;top:501.37px;width:73px">51.67%</div>
<div class="c b s" style="left:6px;top:518.2px;width:110px">Maryland</div>
<div class="c b" style="left:118px;top:518.2px;width:87px">93,806</div>
<div class="c" style="left:207px;top:518.37px;width:79px">67,757</div>
<div class="c b" style="left:287px;top:518.2px;width:78px">138.44%</div>
<div class="c" style="left:367px;top:518.37px;width:88px">88,000</div>
<div class="c b tb" style="left:456px;top:518.2px;width:73px">106.60%</div>
<div class="c p6" style="left:531px;top:518.37px;width:115px">105,000</div>
<div class="c tg" style="left:648px;top:518.37px;width:73px">89.34%</div>
<div class="c p8" style="left:723px;top:518.37px;width:74px">458,000</div>
<div class="c" style="left:798px;top:518.37px;width:73px">20.48%</div>
<div class="c b s" style="left:6px;top:535.2px;width:110px">Masschusetts</div>
<div class="c b" style="left:118px;top:535.2px;width:87px">116,000</div>
<div class="c i" style="left:207px;top:535.37px;width:79px">31,695</div>
<div class="c b" style="left:287px;top:535.2px;width:78px">365.99%</div>
<div class="c" style="left:367px;top:535.37px;width:88px">170,000</div>
<div class="c i tb" style="left:456px;top:535.37px;width:73px">68.24%</div>
<div class="c p6" style="left:531px;top:535.37px;width:115px">300,000</div>
<div class="c i tg" style="left:648px;top:535.37px;width:73px">38.67%</div>
<div class="c p8 i" style="left:723px;top:535.37px;width:74px">385,000</div>
<div class="c" style="left:798px;top:535.37px;width:73px">30.13%</div>
<div class="c b s" style="left:6px;top:552.2px;width:110px">Michigan</div>
<div class="c b" style="left:118px;top:552.2px;width:87px">304,679</div>
<div class="c" style="left:207px;top:552.37px;width:79px">272,539</div>
<div class="c b" style="left:287px;top:552.2px;width:78px">111.79%</div>
<div class="c" style="left:367px;top:552.37px;width:88px">350,000</div>
<div class="c tb" style="left:456px;top:552.37px;width:73px">87.05%</div>
<div class="c p6" style="left:531px;top:552.37px;width:115px">425,000</div>
<div class="c tg" style="left:648px;top:552.37px;width:73px">71.69%</div>
<div class="c p8" style="left:723px;top:552.37px;width:74px">689,000</div>
<div class="c" style="left:798px;top:552.37px;width:73px">44.22%</div>
<div class="c b s" style="left:6px;top:569.2px;width:110px">Minnesota</div>
<div class="c b" style="left:118px;top:569.2px;width:87px">44,331</div>
<div class="c" style="left:207px;top:569.37px;width:79px">48,495</div>
<div class="c" style="left:287px;top:569.37px;width:78px">91.41%</div>
<div class="c" style="left:367px;top:569.37px;width:88px">67,000</div>
<div class="c tb" style="left:456px;top:569.37px;width:73px">66.17%</div>
<div class="c p6" style="left:531px;top:569.37px;width:115px">75,000</div>
<div class="c tg" style="left:648px;top:569.37px;width:73px">59.11%</div>
<div class="c p8" style="left:723px;top:569.37px;width:74px">275,000</div>
<div class="c" style="left:798px;top:569.37px;width:73px">16.12%</div>
<div class="c b s" style="left:6px;top:586.2px;width:110px">Mississippi</div>
<div class="c b" style="left:118px;top:586.2px;width:87px">87,356</div>
<div class="c" style="left:207px;top:586.37px;width:79px">61,494</div>
<div class="c b" style="left:287px;top:586.2px;width:78px">142.06%</div>
<div class="c" style="left:367px;top:586.37px;width:88px">80,000</div>
<div class="c b tb" style="left:456px;top:586.2px;width:73px">109.20%</div>
<div class="c p6" style="left:531px;top:586.37px;width:115px">96,000</div>
<div class="c tg" style="left:648px;top:586.37px;width:73px">91.00%</div>
<div class="c p8" style="left:723px;top:586.37px;width:74px">284,000</div>
<div class="c" style="left:798px;top:586.37px;width:73px">30.76%</div>
<div class="c b s" style="left:6px;top:603.2px;width:110px">Missouri</div>
<div class="c b" style="left:118px;top:603.2px;width:87px">219,065</div>
<div class="c" style="left:207px;top:603.37px;width:79px">152,335</div>
<div class="c b" style="left:287px;top:603.2px;width:78px">143.80%</div>
<div class="c" style="left:367px;top:603.37px;width:88px">198,000</div>
<div class="c b tb" style="left:456px;top:603.2px;width:73px">110.64%</div>
<div class="c p6" style="left:531px;top:603.37px;width:115px">238,000</div>
<div class="c tg" style="left:648px;top:603.37px;width:73px">92.04%</div>
<div class="c p8" style="left:723px;top:603.37px;width:74px">639,000</div>
<div class="c" style="left:798px;top:603.37px;width:73px">34.28%</div>
<div class="c b s" style="left:6px;top:620.2px;width:110px">Montana</div>
<div class="c b" style="left:118px;top:620.2px;width:87px">48,356</div>
<div class="c" style="left:207px;top:620.37px;width:79px">36,584</div>
<div class="c b" style="left:287px;top:620.2px;width:78px">132.18%</div>
<div class="c" style="left:367px;top:620.37px;width:88px">47,000</div>
<div class="c b tb" style="left:456px;top:620.2px;width:73px">102.89%</div>
<div class="c p6" style="left:531px;top:620.37px;width:115px">57,000</div>
<div class="c tg" style="left:648px;top:620.37px;width:73px">84.84%</div>
<div class="c p8" style="left:723px;top:620.37px;width:74px">121,000</div>
<div class="c" style="left:798px;top:620.37px;width:73px">39.96%</div>
<div class="c b s" style="left:6px;top:637.2px;width:110px">Nebraska</div>
<div class="c b" style="left:118px;top:637.2px;width:87px">64,008</div>
<div class="c" style="left:207px;top:637.37px;width:79px">42,975</div>
<div class="c b" style="left:287px;top:637.2px;width:78px">148.94%</div>
<div class="c" style="left:367px;top:637.37px;width:88px">55,000</div>
<div class="c b tb" style="left:456px;top:637.2px;width:73px">116.38%</div>
<div class="c p6" style="left:531px;top:637.37px;width:115px">67,000</div>
<div class="c tg" style="left:648px;top:637.37px;width:73px">95.53%</div>
<div class="c p8" style="left:723px;top:637.37px;width:74px">235,000</div>
<div class="c" style="left:798px;top:637.37px;width:73px">27.24%</div>
<div class="c b s" style="left:6px;top:654.2px;width:110px">Nevada</div>
<div class="c b" style="left:118px;top:654.2px;width:87px">56,421</div>
<div class="c" style="left:207px;top:654.37px;width:79px">45,390</div>
<div class="c b" style="left:287px;top:654.2px;width:78px">124.30%</div>
<div class="c" style="left:367px;top:654.37px;width:88px">59,000</div>
<div class="c tb" style="left:456px;top:654.37px;width:73px">95.63%</div>
<div class="c p6" style="left:531px;top:654.37px;width:115px">73,000</div>
<div class="c tg" style="left:648px;top:654.37px;width:73px">77.29%</div>
<div class="c p8" style="left:723px;top:654.37px;width:74px">256,000</div>
<div class="c" style="left:798px;top:654.37px;width:73px">22.04%</div>
<div class="c b s" style="left:6px;top:671.2px;width:110px">New Hampshire</div>
<div class="c b" style="left:118px;top:671.2px;width:87px">47,434</div>
<div class="c" style="left:207px;top:671.37px;width:79px">40,262</div>
<div class="c b" style="left:287px;top:671.2px;width:78px">117.81%</div>
<div class="c" style="left:367px;top:671.37px;width:88px">50,000</div>
<div class="c tb" style="left:456px;top:671.37px;width:73px">94.87%</div>
<div class="c p6" style="left:531px;top:671.37px;width:115px">63,000</div>
<div class="c tg" style="left:648px;top:671.37px;width:73px">75.29%</div>
<div class="c p8" style="left:723px;top:671.37px;width:74px">104,000</div>
<div class="c" style="left:798px;top:671.37px;width:73px">45.61%</div>
<div class="c b s" style="left:6px;top:688.2px;width:110px">New Jersey</div>
<div class="c b" style="left:118px;top:688.2px;width:87px">216,425</div>
<div class="c" style="left:207px;top:688.37px;width:79px">161,775</div>
<div class="c b" style="left:287px;top:688.2px;width:78px">133.78%</div>
<div class="c" style="left:367px;top:688.37px;width:88px">210,000</div>
<div class="c b tb" style="left:456px;top:688.2px;width:73px">103.06%</div>
<div class="c p6" style="left:531px;top:688.37px;width:115px">250,000</div>
<div class="c tg" style="left:648px;top:688.37px;width:73px">86.57%</div>
<div class="c p8" style="left:723px;top:688.37px;width:74px">589,000</div>
<div class="c" style="left:798px;top:688.37px;width:73px">36.74%</div>
<div class="c b s" style="left:6px;top:705.2px;width:110px">New Mexico</div>
<div class="c b" style="left:118px;top:705.2px;width:87px">44,431</div>
<div class="c" style="left:207px;top:705.37px;width:79px">32,062</div>
<div class="c b" style="left:287px;top:705.2px;width:78px">138.58%</div>
<div class="c" style="left:367px;top:705.37px;width:88px">43,000</div>
<div class="c b tb" style="left:456px;top:705.2px;width:73px">103.33%</div>
<div class="c p6" style="left:531px;top:705.37px;width:115px">52,000</div>
<div class="c tg" style="left:648px;top:705.37px;width:73px">85.44%</div>
<div class="c p8" style="left:723px;top:705.37px;width:74px">156,000</div>
<div class="c" style="left:798px;top:705.37px;width:73px">28.48%</div>
<div class="c b s" style="left:6px;top:722.2px;width:110px">New York</div>
<div class="c b" style="left:118px;top:722.2px;width:87px">453,968</div>
<div class="c" style="left:207px;top:722.37px;width:79px">370,451</div>
<div class="c" style="left:287px;top:722.37px;width:78px">122.54%</div>
<div class="c" style="left:367px;top:722.37px;width:88px">720,000</div>
<div class="c tb" style="left:456px;top:722.37px;width:73px">63.05%</div>
<div class="c p6" style="left:531px;top:722.37px;width:115px">573,000</div>
<div class="c tg" style="left:648px;top:722.37px;width:73px">79.23%</div>
<div class="c p8" style="left:723px;top:722.37px;width:74px">1,246,000</div>
<div class="c" style="left:798px;top:722.37px;width:73px">36.43%</div>
<div class="c b s" style="left:6px;top:739.2px;width:110px">North Carolina</div>
<div class="c b" style="left:118px;top:739.2px;width:87px">479,748</div>
<div class="c" style="left:207px;top:739.37px;width:79px">357,584</div>
<div class="c b" style="left:287px;top:739.2px;width:78px">134.16%</div>
<div class="c" style="left:367px;top:739.37px;width:88px">445,000</div>
<div class="c b tb" style="left:456px;top:739.2px;width:73px">107.81%</div>
<div class="c p6" style="left:531px;top:739.37px;width:115px">563,000</div>
<div class="c tg" style="left:648px;top:739.37px;width:73px">85.21%</div>
<div class="c p8" style="left:723px;top:739.37px;width:74px">1,097,000</div>
<div class="c" style="left:798px;top:739.37px;width:73px">43.73%</div>
<div class="c b s" style="left:6px;top:756.2px;width:110px">North Dakota</div>
<div class="c b" style="left:118px;top:756.2px;width:87px">15,997</div>
<div class="c" style="left:207px;top:756.37px;width:79px">10,597</div>
<div class="c b" style="left:287px;top:756.2px;width:78px">150.96%</div>
<div class="c" style="left:367px;top:756.37px;width:88px">14,000</div>
<div class="c b tb" style="left:456px;top:756.2px;width:73px">114.26%</div>
<div class="c p6" style="left:531px;top:756.37px;width:115px">16,000</div>
<div class="c tg" style="left:648px;top:756.37px;width:73px">99.98%</div>
<div class="c p8" style="left:723px;top:756.37px;width:74px">78,000</div>
<div class="c" style="left:798px;top:756.37px;width:73px">20.51%</div>
<div class="c b s" style="left:6px;top:773.2px;width:110px">Ohio</div>
<div class="c b" style="left:118px;top:773.2px;width:87px">202,379</div>
<div class="c" style="left:207px;top:773.37px;width:79px">154,668</div>
<div class="c b" style="left:287px;top:773.2px;width:78px">130.85%</div>
<div class="c" style="left:367px;top:773.37px;width:88px">200,000</div>
<div class="c b tb" style="left:456px;top:773.2px;width:73px">101.19%</div>
<div class="c p6" style="left:531px;top:773.37px;width:115px">242,000</div>
<div class="c tg" style="left:648px;top:773.37px;width:73px">83.63%</div>
<div class="c p8" style="left:723px;top:773.37px;width:74px">932,000</div>
<div class="c" style="left:798px;top:773.37px;width:73px">21.71%</div>
<div class="c b s" style="left:6px;top:790.2px;width:110px">Oklahoma</div>
<div class="c b" style="left:118px;top:790.2px;width:87px">105,668</div>
<div class="c" style="left:207px;top:790.37px;width:79px">69,221</div>
<div class="c b" style="left:287px;top:790.2px;width:78px">152.65%</div>
<div class="c" style="left:367px;top:790.37px;width:88px">90,000</div>
<div class="c b tb" style="left:456px;top:790.2px;width:73px">117.41%</div>
<div class="c p6" style="left:531px;top:790.37px;width:115px">109,000</div>
<div class="c tg" style="left:648px;top:790.37px;width:73px">96.94%</div>
<div class="c p8" style="left:723px;top:790.37px;width:74px">398,000</div>
<div class="c" style="left:798px;top:790.37px;width:73px">26.55%</div>
<div class="c b s" style="left:6px;top:807.2px;width:110px">Oregon</div>
<div class="c b" style="left:118px;top:807.2px;width:87px">94,126</div>
<div class="c" style="left:207px;top:807.37px;width:79px">68,308</div>
<div class="c b" style="left:287px;top:807.2px;width:78px">137.80%</div>
<div class="c" style="left:367px;top:807.37px;width:88px">89,000</div>
<div class="c b tb" style="left:456px;top:807.2px;width:73px">105.76%</div>
<div class="c p6" style="left:531px;top:807.37px;width:115px">125,000</div>
<div class="c tg" style="left:648px;top:807.37px;width:73px">75.30%</div>
<div class="c p8" style="left:723px;top:807.37px;width:74px">324,000</div>
<div class="c" style="left:798px;top:807.37px;width:73px">29.05%</div>
<div class="c b s" style="left:6px;top:824.2px;width:110px">Pennsylvania</div>
<div class="c b" style="left:118px;top:824.2px;width:87px">429,996</div>
<div class="c" style="left:207px;top:824.37px;width:79px">318,077</div>
<div class="c b" style="left:287px;top:824.2px;width:78px">135.19%</div>
<div class="c" style="left:367px;top:824.37px;width:88px">410,000</div>
<div class="c b tb" style="left:456px;top:824.2px;width:73px">104.88%</div>
<div class="c p6" style="left:531px;top:824.37px;width:115px">495,000</div>
<div class="c tg" style="left:648px;top:824.37px;width:73px">86.87%</div>
<div class="c p8" style="left:723px;top:824.37px;width:74px">899,000</div>
<div class="c" style="left:798px;top:824.37px;width:73px">47.83%</div>
<div class="c b s" style="left:6px;top:841.2px;width:110px">Rhode Island</div>
<div class="c b i" style="left:118px;top:841.2px;width:87px">27,475</div>
<div class="c" style="left:207px;top:841.37px;width:79px">28,485</div>
<div class="c b" style="left:287px;top:841.2px;width:78px">96.45%</div>
<div class="c" style="left:367px;top:841.37px;width:88px">37,000</div>
<div class="c tb" style="left:456px;top:841.37px;width:73px">74.26%</div>
<div class="c p6" style="left:531px;top:841.37px;width:115px">47,000</div>
<div class="c tg" style="left:648px;top:841.37px;width:73px">58.46%</div>
<div class="c p8" style="left:723px;top:841.37px;width:74px">73,000</div>
<div class="c" style="left:798px;top:841.37px;width:73px">37.64%</div>
<div class="c b s" style="left:6px;top:858.2px;width:110px">South Carolina</div>
<div class="c b" style="left:118px;top:858.2px;width:87px">172,360</div>
<div class="c" style="left:207px;top:858.37px;width:79px">118,324</div>
<div class="c b" style="left:287px;top:858.2px;width:78px">145.67%</div>
<div class="c" style="left:367px;top:858.37px;width:88px">150,000</div>
<div class="c b tb" style="left:456px;top:858.2px;width:73px">114.91%</div>
<div class="c p6" style="left:531px;top:858.37px;width:115px">188,000</div>
<div class="c tg" style="left:648px;top:858.37px;width:73px">91.68%</div>
<div class="c p8" style="left:723px;top:858.37px;width:74px">441,000</div>
<div class="c" style="left:798px;top:858.37px;width:73px">39.08%</div>
<div class="c b s" style="left:6px;top:875.2px;width:110px">South Dakota</div>
<div class="c b" style="left:118px;top:875.2px;width:87px">18,554</div>
<div class="c" style="left:207px;top:875.37px;width:79px">13,104</div>
<div class="c b" style="left:287px;top:875.2px;width:78px">141.59%</div>
<div class="c" style="left:367px;top:875.37px;width:88px">17,000</div>
<div class="c b tb" style="left:456px;top:875.2px;width:73px">109.14%</div>
<div class="c p6" style="left:531px;top:875.37px;width:115px">21,000</div>
<div class="c tg" style="left:648px;top:875.37px;width:73px">88.35%</div>
<div class="c p8" style="left:723px;top:875.37px;width:74px">101,000</div>
<div class="c" style="left:798px;top:875.37px;width:73px">18.37%</div>
<div class="c b s" style="left:6px;top:892.2px;width:110px">Tennessee</div>
<div class="c b" style="left:118px;top:892.2px;width:87px">193,207</div>
<div class="c" style="left:207px;top:892.37px;width:79px">151,352</div>
<div class="c b" style="left:287px;top:892.2px;width:78px">127.65%</div>
<div class="c" style="left:367px;top:892.37px;width:88px">195,000</div>
<div class="c tb" style="left:456px;top:892.37px;width:73px">99.08%</div>
<div class="c p6" style="left:531px;top:892.37px;width:115px">238,000</div>
<div class="c tg" style="left:648px;top:892.37px;width:73px">81.18%</div>
<div class="c p8" style="left:723px;top:892.37px;width:74px">579,000</div>
<div class="c" style="left:798px;top:892.37px;width:73px">33.37%</div>
<div class="c b s" style="left:6px;top:909.2px;width:110px">Texas</div>
<div class="c b" style="left:118px;top:909.2px;width:87px">969,461</div>
<div class="c" style="left:207px;top:909.37px;width:79px">733,757</div>
<div class="c b" style="left:287px;top:909.2px;width:78px">132.12%</div>
<div class="c" style="left:367px;top:909.37px;width:88px">940,000</div>
<div class="c b tb" style="left:456px;top:909.2px;width:73px">103.13%</div>
<div class="c p6" style="left:531px;top:909.37px;width:115px">1,150,000</div>
<div class="c tg" style="left:648px;top:909.37px;width:73px">84.30%</div>
<div class="c p8" style="left:723px;top:909.37px;width:74px">3,061,000</div>
<div class="c" style="left:798px;top:909.37px;width:73px">31.67%</div>
<div class="c b s" style="left:6px;top:926.2px;width:110px">Utah</div>
<div class="c b" style="left:118px;top:926.2px;width:87px">120,391</div>
<div class="c" style="left:207px;top:926.37px;width:79px">84,601</div>
<div class="c b" style="left:287px;top:926.2px;width:78px">142.30%</div>
<div class="c" style="left:367px;top:926.37px;width:88px">110,000</div>
<div class="c b tb" style="left:456px;top:926.2px;width:73px">109.45%</div>
<div class="c p6" style="left:531px;top:926.37px;width:115px">130,000</div>
<div class="c tg" style="left:648px;top:926.37px;width:73px">92.61%</div>
<div class="c p8" style="left:723px;top:926.37px;width:74px">376,000</div>
<div class="c" style="left:798px;top:926.37px;width:73px">32.02%</div>
<div class="c b s" style="left:6px;top:943.2px;width:110px">Vermont</div>
<div class="c b" style="left:118px;top:943.2px;width:87px">26,595</div>
<div class="c" style="left:207px;top:943.37px;width:79px">38,048</div>
<div class="c" style="left:287px;top:943.37px;width:78px">69.90%</div>
<div class="c" style="left:367px;top:943.37px;width:88px">38,000</div>
<div class="c tb" style="left:456px;top:943.37px;width:73px">69.99%</div>
<div class="c p6" style="left:531px;top:943.37px;width:115px">44,000</div>
<div class="c tg" style="left:648px;top:943.37px;width:73px">60.44%</div>
<div class="c p8" style="left:723px;top:943.37px;width:74px">45,000</div>
<div class="c" style="left:798px;top:943.37px;width:73px">59.10%</div>
<div class="c b s" style="left:6px;top:960.2px;width:110px">Virginia</div>
<div class="c b" style="left:118px;top:960.2px;width:87px">329,447</div>
<div class="c" style="left:207px;top:960.37px;width:79px">216,356</div>
<div class="c b" style="left:287px;top:960.2px;width:78px">152.27%</div>
<div class="c" style="left:367px;top:960.37px;width:88px">275,000</div>
<div class="c b tb" style="left:456px;top:960.2px;width:73px">119.80%</div>
<div class="c p6" style="left:531px;top:960.37px;width:115px">339,000</div>
<div class="c tg" style="left:648px;top:960.37px;width:73px">97.18%</div>
<div class="c p8" style="left:723px;top:960.37px;width:74px">831,000</div>
<div class="c" style="left:798px;top:960.37px;width:73px">39.64%</div>
<div class="c b s" style="left:6px;top:977.2px;width:110px">Washington</div>
<div class="c b" style="left:118px;top:977.2px;width:87px">127,000</div>
<div class="c" style="left:207px;top:977.37px;width:79px">163,207</div>
<div class="c" style="left:287px;top:977.37px;width:78px">77.82%</div>
<div class="c" style="left:367px;top:977.37px;width:88px">215,000</div>
<div class="c tb" style="left:456px;top:977.37px;width:73px">59.07%</div>
<div class="c p6" style="left:531px;top:977.37px;width:115px">250,000</div>
<div class="c tg" style="left:648px;top:977.37px;width:73px">50.80%</div>
<div class="c p8" style="left:723px;top:977.37px;width:74px">503,000</div>
<div class="c" style="left:798px;top:977.37px;width:73px">25.25%</div>
<div class="c b s" style="left:6px;top:994.2px;width:110px">West Virginia</div>
<div class="c b" style="left:118px;top:994.2px;width:87px">28,482</div>
<div class="c" style="left:207px;top:994.37px;width:79px">19,856</div>
<div class="c b" style="left:287px;top:994.2px;width:78px">143.44%</div>
<div class="c" style="left:367px;top:994.37px;width:88px">25,000</div>
<div class="c b tb" style="left:456px;top:994.2px;width:73px">113.93%</div>
<div class="c p6" style="left:531px;top:994.37px;width:115px">31,000</div>
<div class="c tg" style="left:648px;top:994.37px;width:73px">91.88%</div>
<div class="c p8" style="left:723px;top:994.37px;width:74px">106,000</div>
<div class="c" style="left:798px;top:994.37px;width:73px">26.87%</div>
<div class="c b s" style="left:6px;top:1011.2px;width:110px">Wisconsin</div>
<div class="c b" style="left:118px;top:1011.2px;width:87px">182,581</div>
<div class="c" style="left:207px;top:1011.37px;width:79px">139,815</div>
<div class="c b" style="left:287px;top:1011.2px;width:78px">130.59%</div>
<div class="c" style="left:367px;top:1011.37px;width:88px">180,000</div>
<div class="c b tb" style="left:456px;top:1011.2px;width:73px">101.43%</div>
<div class="c p6" style="left:531px;top:1011.37px;width:115px">219,000</div>
<div class="c tg" style="left:648px;top:1011.37px;width:73px">83.37%</div>
<div class="c p8" style="left:723px;top:1011.37px;width:74px">478,000</div>
<div class="c" style="left:798px;top:1011.37px;width:73px">38.20%</div>
<div class="c b s" style="left:6px;top:1028.2px;width:110px">Wyoming</div>
<div class="c b" style="left:118px;top:1028.2px;width:87px">18,463</div>
<div class="c" style="left:207px;top:1028.37px;width:79px">11,970</div>
<div class="c b" style="left:287px;top:1028.2px;width:78px">154.24%</div>
<div class="c" style="left:367px;top:1028.37px;width:88px">15,000</div>
<div class="c b tb" style="left:456px;top:1028.2px;width:73px">123.09%</div>
<div class="c p6" style="left:531px;top:1028.37px;width:115px">19,000</div>
<div class="c tg" style="left:648px;top:1028.37px;width:73px">97.17%</div>
<div class="c p8" style="left:723px;top:1028.37px;width:74px">65,000</div>
<div class="c" style="left:798px;top:1028.37px;width:73px">28.40%</div>
<div class="c b t0" style="left:6px;top:1046.2px;width:110px">TOTAL:</div>
<div class="c b t1" style="left:118px;top:1046.2px;width:87px">10,016,140</div>
<div class="c b t2" style="left:207px;top:1046.2px;width:79px">8,019,763</div>
<div class="c b t1" style="left:287px;top:1046.2px;width:78px">124.89%</div>
<div class="c b t2" style="left:367px;top:1046.2px;width:88px">10,400,000</div>
<div class="c b t1 tb" style="left:456px;top:1046.2px;width:73px">96.31%</div>
<div class="c b t1" style="left:531px;top:1046.2px;width:115px">12,500,000</div>
<div class="c b t1 tg" style="left:648px;top:1046.2px;width:73px">80.13%</div>
<div class="c b t2" style="left:723px;top:1046.2px;width:74px">28,244,000</div>
<div class="c b t1" style="left:798px;top:1046.2px;width:73px">35.46%</div>
<div style="left:287px;top:1045px;width:0;height:0;border-top:5px solid #2b8a46;border-right:5px solid transparent"></div>
<div style="left:456px;top:1045px;width:0;height:0;border-top:5px solid #2b8a46;border-right:5px solid transparent"></div>
<div style="left:648px;top:1045px;width:0;height:0;border-top:5px solid #2b8a46;border-right:5px solid transparent"></div>
</div></body></html>
